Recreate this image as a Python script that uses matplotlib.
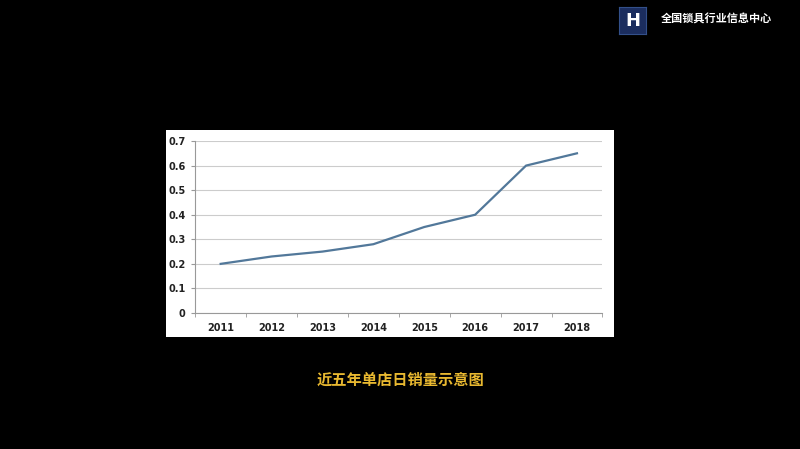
import matplotlib.pyplot as plt
import numpy as np

plt.rcParams["font.family"] = ["Noto Sans CJK SC", "DejaVu Sans"]

years = ["2011", "2012", "2013", "2014", "2015", "2016", "2017", "2018"]
sales = [0.20, 0.23, 0.25, 0.28, 0.35, 0.40, 0.60, 0.65]
y_ticks = [0, 0.1, 0.2, 0.3, 0.4, 0.5, 0.6, 0.7]
y_labels = ["0", "0.1", "0.2", "0.3", "0.4", "0.5", "0.6", "0.7"]

fig = plt.figure(figsize=(8, 4.49), dpi=100, facecolor="black")

# white panel behind the chart
panel = fig.add_axes([0.2075, 0.2494, 0.56, 0.461])
panel.set_facecolor("white")
panel.set_xticks([])
panel.set_yticks([])
for s in panel.spines.values():
    s.set_visible(False)

ax = fig.add_axes([0.244, 0.3029, 0.509, 0.383])
ax.set_facecolor("none")
x = np.arange(len(years))
ax.plot(x, sales, color="#52789a", linewidth=1.6, zorder=3)

ax.set_xlim(-0.5, len(years) - 0.5)
ax.set_ylim(0, 0.7)
ax.set_yticks(y_ticks)
ax.set_yticklabels(y_labels)
ax.set_xticks(x)
ax.set_xticklabels(years)
ax.set_xticks(np.arange(-0.5, len(years), 1.0), minor=True)
ax.tick_params(axis="x", which="major", length=0, pad=7)
ax.tick_params(axis="x", which="minor", length=3, color="#999999")
ax.tick_params(axis="y", length=3, color="#999999", pad=4)
for lab in ax.get_xticklabels() + ax.get_yticklabels():
    lab.set_fontsize(7)
    lab.set_fontweight("bold")
    lab.set_color("#222222")
    lab.set_family("DejaVu Sans")

ax.grid(axis="y", color="#cccccc", linewidth=0.8)
ax.set_axisbelow(True)
for side in ["top", "right"]:
    ax.spines[side].set_visible(False)
ax.spines["left"].set_color("#999999")
ax.spines["bottom"].set_color("#999999")

# logo and header
logo = fig.add_axes([0.774, 0.925, 0.033, 0.060])
logo.set_facecolor("#1b2d5e")
logo.set_xticks([])
logo.set_yticks([])
for s in logo.spines.values():
    s.set_color("#33508a")
logo.text(0.5, 0.48, "H", color="white", fontsize=13, fontweight="bold",
          ha="center", va="center", family="DejaVu Sans")

fig.text(0.826, 0.958, "全国锁具行业信息中心", color="white", fontsize=8,
         fontweight="bold", va="center", ha="left")

fig.text(0.5, 0.154, "近五年单店日销量示意图", color="#e8b830", fontsize=11,
         fontweight="bold", ha="center", va="center")

fig.savefig("out.png", dpi=100, facecolor="black")
